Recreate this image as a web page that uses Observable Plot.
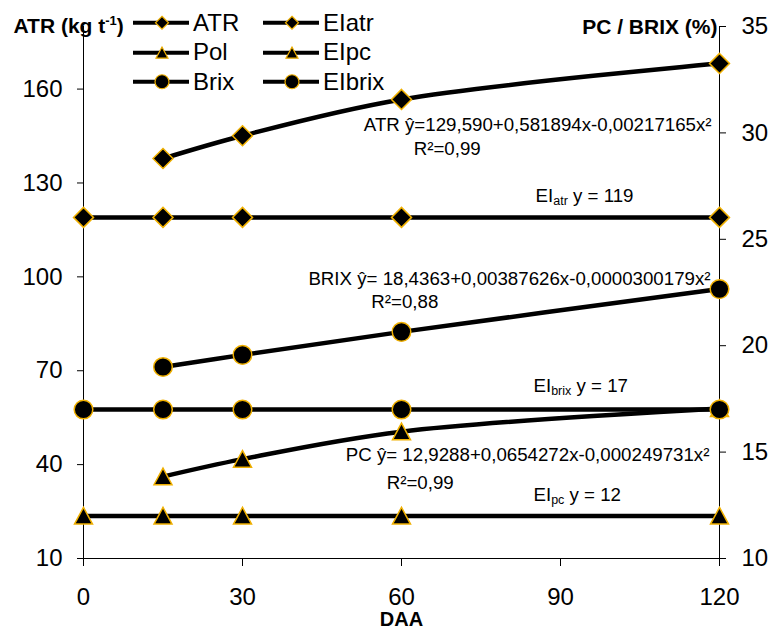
<!DOCTYPE html>
<html><head><meta charset="utf-8">
<script src="https://cdn.jsdelivr.net/npm/d3@7"></script>
<script src="https://cdn.jsdelivr.net/npm/@observablehq/plot@0.6"></script>
<style>
body{margin:0;background:#fff;}
#wrap{position:relative;width:771px;height:630px;font-family:"Liberation Sans",Arial,sans-serif;}
#legend{position:absolute;left:133px;top:8px;display:grid;grid-template-columns:130px 130px;grid-auto-rows:29.5px;}
.item{display:flex;align-items:center;font-size:24px;color:#000;white-space:nowrap;}
.item svg{margin-right:4px;flex:none;}
</style></head><body><div id="wrap"></div>
<script>
// ---- data ----
const days = [15, 30, 60, 120];
const atr = [137.8, 145.1, 156.7, 168.2];          // kg t-1 (left axis)
const pol = [13.85, 14.67, 15.96, 17.05];          // % (right axis)
const brix = [19.0, 19.57, 20.65, 22.66];          // % (right axis)
const eiDays = [0, 15, 30, 60, 120];
const eiAtr = 119, eiPc = 12, eiBrix = 17;
const xTicks = [0, 30, 60, 90, 120];
const leftTicks = [10, 40, 70, 100, 130, 160];
const rightTicks = [10, 15, 20, 25, 30, 35];
const legendLabels = ["ATR", "EIatr", "Pol", "EIpc", "Brix", "EIbrix"];
const legendSymbols = ["diamond", "diamond", "triangle", "triangle", "circle", "circle"];
const eqEnd = [
  {x: 118.5, y: 146.5, text: "ATR ŷ=129,590+0,581894x-0,00217165x²"},
  {x: 118.3, y: 97.25, text: "BRIX ŷ= 18,4363+0,00387626x-0,0000300179x²"},
  {x: 118.1, y: 41.0, text: "PC ŷ= 12,9288+0,0654272x-0,000249731x²"}
];
const eqStart = [
  {x: 62.3, y: 138.8, text: "R²=0,99"},
  {x: 85.3, y: 123.8, text: "EI_atr y = 119"},
  {x: 54.3, y: 89.9, text: "R²=0,88"},
  {x: 84.9, y: 63.05, text: "EI_brix y = 17"},
  {x: 57.2, y: 32.05, text: "R²=0,99"},
  {x: 84.9, y: 28.5, text: "EI_pc y = 12"}
];

// right axis (10..35 %) mapped onto left scale (10..180)
const toLeft = v => 10 + (v - 10) * (170 / 25);
const fromLeft = v => 10 + (v - 10) * (25 / 170);

const gold = "#f0b000";
const diamondSym = {draw(c, s){const r = Math.sqrt(s/Math.PI); c.moveTo(0,-r); c.lineTo(r,0); c.lineTo(0,r); c.lineTo(-r,0); c.closePath();}};
const triSym = {draw(c, s){const r = Math.sqrt(s/Math.PI); c.moveTo(0,-r*0.95); c.lineTo(r,r*0.9); c.lineTo(-r,r*0.9); c.closePath();}};

const pts = (xs, ys, f) => xs.map((x, i) => ({x, y: f(Array.isArray(ys) ? ys[i] : ys)}));
const id = v => v;

const polD = pts(days, pol, toLeft);
const brixD = pts(days, brix, toLeft);
const atrD = pts(days, atr, id);
const eiPcD = pts(eiDays, eiPc, toLeft);
const eiBrixD = pts(eiDays, eiBrix, toLeft);
const eiAtrD = pts(eiDays, eiAtr, id);

const lineOpt = {x: "x", y: "y", stroke: "black", strokeWidth: 4.5};
const curveOpt = {...lineOpt, curve: "catmull-rom"};
const dotOpt = {x: "x", y: "y", fill: "black", stroke: gold, strokeWidth: 1.5};

const plot = Plot.plot({
  width: 771, height: 630,
  marginLeft: 83, marginRight: 52, marginTop: 26, marginBottom: 72,
  x: {domain: [0, 120]},
  y: {domain: [10, 180]},
  style: {fontFamily: '"Liberation Sans", Arial, sans-serif', fontSize: "24px", background: "white", color: "black", overflow: "visible"},
  marks: [
    Plot.ruleX([0, 120], {stroke: "black", strokeWidth: 1}),
    Plot.ruleY([10], {stroke: "black", strokeWidth: 1}),
    Plot.axisX({ticks: xTicks, tickSize: 8, tickPadding: 21, label: null, tickFormat: d => String(d)}),
    Plot.axisY({ticks: leftTicks, anchor: "left", tickSize: 6, tickPadding: 15, label: null, tickFormat: d => String(d)}),
    Plot.axisY({ticks: rightTicks.map(toLeft), anchor: "right", tickSize: 6, tickPadding: 16, label: null, tickFormat: d => String(Math.round(fromLeft(d)))}),
    // Pol
    Plot.line(polD, curveOpt),
    Plot.dot(polD, {...dotOpt, symbol: triSym, r: 9}),
    // EIpc
    Plot.line(eiPcD, lineOpt),
    Plot.dot(eiPcD, {...dotOpt, symbol: triSym, r: 9}),
    // ATR
    Plot.line(atrD, curveOpt),
    Plot.dot(atrD, {...dotOpt, symbol: diamondSym, r: 10}),
    // EIatr
    Plot.line(eiAtrD, lineOpt),
    Plot.dot(eiAtrD, {...dotOpt, symbol: diamondSym, r: 10}),
    // Brix
    Plot.line(brixD, curveOpt),
    Plot.dot(brixD, {...dotOpt, r: 9.3}),
    // EIbrix
    Plot.line(eiBrixD, lineOpt),
    Plot.dot(eiBrixD, {...dotOpt, r: 9.3}),
    // annotations
    Plot.text(eqEnd, {x: "x", y: "y", text: "text", textAnchor: "end", lineAnchor: "bottom", fontSize: 18.7, fill: "black"}),
    Plot.text(eqStart, {x: "x", y: "y", text: "text", textAnchor: "start", lineAnchor: "bottom", fontSize: 18.7, fill: "black"}),
    // axis titles
    Plot.text(["ATR (kg t^-1)"], {text: d => d, frameAnchor: "top-left", dx: -70, dy: 6, textAnchor: "start", lineAnchor: "bottom", fontSize: 21, fontWeight: "bold"}),
    Plot.text(["PC / BRIX (%)"], {text: d => d, frameAnchor: "top-right", dx: -2, dy: 7, textAnchor: "end", lineAnchor: "bottom", fontSize: 21, fontWeight: "bold"}),
    Plot.text(["DAA"], {text: d => d, frameAnchor: "bottom", dy: 67, lineAnchor: "bottom", fontSize: 20, fontWeight: "bold"})
  ]
});

// sub/superscripts
d3.select(plot).selectAll("text").each(function(){
  const t = this.textContent;
  const sel = d3.select(this);
  let m;
  if ((m = t.match(/^(\w+)_(\w+)(.*)$/))) {
    sel.text(null);
    sel.append("tspan").text(m[1]);
    sel.append("tspan").attr("font-size", 12.5).attr("dy", 3).text(m[2]);
    sel.append("tspan").attr("dy", -3).text(m[3]);
  } else if ((m = t.match(/^(.*)\^(\S+)\)$/))) {
    sel.text(null);
    sel.append("tspan").text(m[1]);
    sel.append("tspan").attr("font-size", 13).attr("dy", -8).text(m[2]);
    sel.append("tspan").attr("dy", 8).text(")");
  }
});

const wrap = document.getElementById("wrap");
wrap.appendChild(plot);

// legend
const legend = document.createElement("div");
legend.id = "legend";
const ns = "http://www.w3.org/2000/svg";
legendLabels.forEach((lab, i) => {
  const item = document.createElement("div");
  item.className = "item";
  const s = document.createElementNS(ns, "svg");
  s.setAttribute("width", 56); s.setAttribute("height", 29.5);
  const ln = document.createElementNS(ns, "line");
  ln.setAttribute("x1", 0); ln.setAttribute("x2", 56); ln.setAttribute("y1", 14.75); ln.setAttribute("y2", 14.75);
  ln.setAttribute("stroke", "black"); ln.setAttribute("stroke-width", 4);
  s.appendChild(ln);
  let mk;
  const cx = 29, cy = 14.75;
  if (legendSymbols[i] === "circle") {
    mk = document.createElementNS(ns, "circle");
    mk.setAttribute("cx", cx); mk.setAttribute("cy", cy); mk.setAttribute("r", 7);
  } else {
    mk = document.createElementNS(ns, "path");
    const p = d3.path();
    const sym = legendSymbols[i] === "diamond" ? diamondSym : triSym;
    const r = legendSymbols[i] === "diamond" ? 6.5 : 6;
    sym.draw(p, r * r * Math.PI);
    mk.setAttribute("d", p.toString());
    mk.setAttribute("transform", `translate(${cx},${cy})`);
  }
  mk.setAttribute("fill", "black"); mk.setAttribute("stroke", gold); mk.setAttribute("stroke-width", 1.2);
  s.appendChild(mk);
  item.appendChild(s);
  const sp = document.createElement("span");
  sp.textContent = lab;
  item.appendChild(sp);
  legend.appendChild(item);
});
wrap.appendChild(legend);
</script></body></html>
